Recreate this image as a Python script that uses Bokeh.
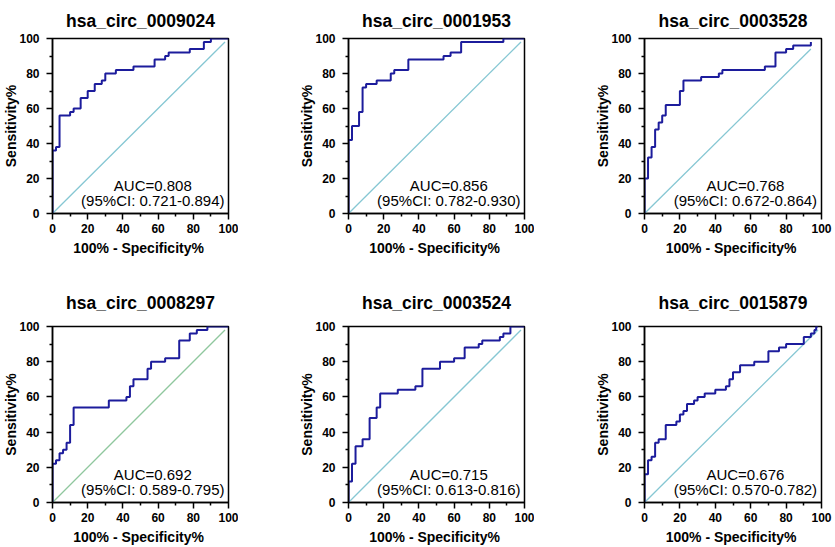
from bokeh.plotting import figure
from bokeh.layouts import row, column
from bokeh.models import Range1d, FixedTicker
from bokeh.embed import file_html
from bokeh.resources import INLINE
from bokeh.core.properties import value

# ---------------- data ----------------
titles = ["hsa_circ_0009024", "hsa_circ_0001953", "hsa_circ_0003528",
          "hsa_circ_0008297", "hsa_circ_0003524", "hsa_circ_0015879"]

auc_text = ["AUC=0.808", "AUC=0.856", "AUC=0.768",
            "AUC=0.692", "AUC=0.715", "AUC=0.676"]
ci_text = ["(95%CI: 0.721-0.894)", "(95%CI: 0.782-0.930)", "(95%CI: 0.672-0.864)",
           "(95%CI: 0.589-0.795)", "(95%CI: 0.613-0.816)", "(95%CI: 0.570-0.782)"]

# ROC step points: 100% - Specificity% (x) and Sensitivity% (y)
fpr_0009024 = [0, 0, 2, 4, 10, 12, 16, 20, 24, 28, 30, 36, 46, 58, 64, 66, 78, 86, 90, 100]
tpr_0009024 = [0, 36, 38, 56, 58, 60, 66, 70, 74, 76, 80, 82, 84, 88, 90, 92, 94, 98, 100, 100]

fpr_0001953 = [0, 0, 2, 6, 8, 10, 16, 24, 26, 34, 54, 58, 64, 88, 100]
tpr_0001953 = [0, 42, 50, 58, 72, 74, 76, 80, 82, 88, 90, 92, 98, 100, 100]

fpr_0003528 = [0, 0, 2, 4, 6, 8, 10, 12, 20, 22, 32, 42, 44, 68, 74, 80, 84, 94]
tpr_0003528 = [0, 20, 32, 38, 48, 52, 56, 62, 70, 76, 78, 80, 82, 84, 92, 94, 96, 98]

fpr_0008297 = [0, 0, 2, 4, 6, 8, 10, 12, 32, 42, 44, 46, 54, 56, 64, 72, 78, 82, 88, 100]
tpr_0008297 = [0, 22, 24, 28, 30, 34, 44, 54, 58, 60, 66, 70, 76, 80, 82, 92, 96, 98, 100, 100]

fpr_0003524 = [0, 0, 2, 4, 8, 12, 16, 18, 28, 38, 42, 52, 60, 66, 74, 76, 86, 88, 92, 100]
tpr_0003524 = [0, 12, 22, 32, 36, 48, 54, 62, 64, 66, 76, 80, 82, 88, 90, 92, 94, 96, 100, 100]

fpr_0015879 = [0, 0, 2, 4, 6, 8, 12, 18, 20, 22, 24, 28, 30, 34, 40, 46, 48, 50, 54, 62, 70, 76, 80, 90, 94, 96, 97, 98]
tpr_0015879 = [0, 16, 24, 26, 34, 36, 44, 46, 50, 52, 56, 58, 60, 62, 64, 66, 70, 74, 78, 80, 86, 88, 90, 94, 96, 98, 100, 100]

fprs = [fpr_0009024, fpr_0001953, fpr_0003528, fpr_0008297, fpr_0003524, fpr_0015879]
tprs = [tpr_0009024, tpr_0001953, tpr_0003528, tpr_0008297, tpr_0003524, tpr_0015879]

# reference (chance) line end points
diag_end = [98, 98, 94, 98, 98, 98]

major_ticks = [0, 20, 40, 60, 80, 100]
minor_ticks = [10, 30, 50, 70, 90]

# ---------------- style ----------------
FONT = "Liberation Sans"
CURVE = "#1c1c9c"
DIAG = ["#86c7d3", "#86c7d3", "#86c7d3", "#8fc79e", "#86c7d3", "#86c7d3"]

widths = [238, 296, 299]
lefts = [51, 110, 110]
rights = [10, 10, 12]
heights = [269, 278]
tops = [38, 57]
bottoms = [56, 45]
title_standoffs = [16, 27]


def make_panel(i):
    c = i % 3
    r = i // 3
    p = figure(width=widths[c], height=heights[r], output_backend="svg",
               toolbar_location=None, x_range=Range1d(0, 100), y_range=Range1d(0, 100),
               min_border_left=lefts[c], min_border_right=rights[c],
               min_border_top=tops[r], min_border_bottom=bottoms[r],
               title=titles[i])
    p.title.text_font = FONT
    p.title.text_font_size = "17.5px"
    p.title.text_font_style = "bold"
    p.title.text_color = "black"
    p.title.align = "center"
    p.title.standoff = title_standoffs[r]
    p.grid.visible = False
    p.outline_line_color = "black"
    p.outline_line_width = 1.5
    p.outline_line_alpha = 1
    p.background_fill_color = "white"
    p.border_fill_color = "white"

    for ax in (p.xaxis[0], p.yaxis[0]):
        ax.ticker = FixedTicker(ticks=major_ticks, minor_ticks=minor_ticks)
        ax.axis_line_width = 1.5
        ax.axis_line_color = "black"
        ax.major_tick_line_width = 1.5
        ax.minor_tick_line_width = 1.5
        ax.major_tick_line_color = "black"
        ax.minor_tick_line_color = "black"
        ax.major_tick_out = 6
        ax.major_tick_in = 0
        ax.minor_tick_out = 3
        ax.minor_tick_in = 0
        ax.major_label_text_font = FONT
        ax.major_label_text_font_size = "12px"
        ax.major_label_text_font_style = "bold"
        ax.major_label_text_color = "black"
        ax.axis_label_text_font = FONT
        ax.axis_label_text_font_size = "14px"
        ax.axis_label_text_font_style = "bold"
        ax.axis_label_text_color = "black"
    p.xaxis.axis_label = "100%  - Specificity%"
    p.yaxis.axis_label = "Sensitivity%"
    p.xaxis.major_label_standoff = 4
    p.yaxis.major_label_standoff = 7
    p.xaxis.axis_label_standoff = 4
    p.yaxis.axis_label_standoff = -3

    p.line([0, diag_end[i]], [0, diag_end[i]], line_color=DIAG[i], line_width=1.3)
    p.step(fprs[i], tprs[i], mode="after", line_color=CURVE, line_width=2)

    p.text(x=[57], y=[16], text=[auc_text[i]], text_align="center",
           text_baseline="alphabetic", text_font=value(FONT), text_font_size="15px",
           text_color="black")
    p.text(x=[57], y=[7.4], text=[ci_text[i]], text_align="center",
           text_baseline="alphabetic", text_font=value(FONT), text_font_size="15px",
           text_color="black")
    return p


panels = [make_panel(i) for i in range(6)]
layout = column(row(*panels[:3]), row(*panels[3:]))
layout.spacing = 0

open("out.html", "w").write(file_html(layout, INLINE))
